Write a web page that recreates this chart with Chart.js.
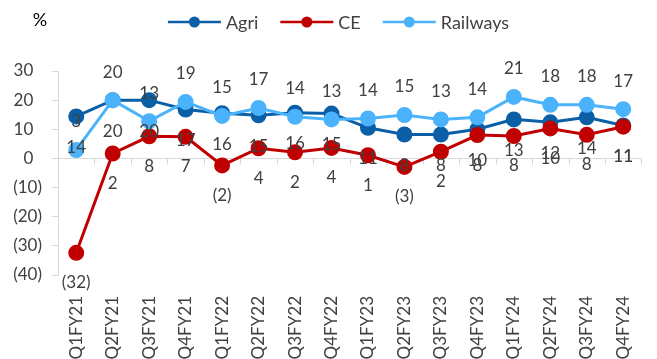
<!DOCTYPE html>
<html>
<head>
<meta charset="utf-8">
<script src="https://cdn.jsdelivr.net/npm/chart.js@4.4.0/dist/chart.umd.min.js"></script>
<style>
  html, body { margin: 0; padding: 0; background: #fff; }
  #wrap { width: 657px; height: 359px; }
</style>
</head>
<body>
<div id="wrap"><canvas id="myChart"></canvas></div>
<script>
var quarters = ["Q1FY21", "Q2FY21", "Q3FY21", "Q4FY21", "Q1FY22", "Q2FY22", "Q3FY22", "Q4FY22",
  "Q1FY23", "Q2FY23", "Q3FY23", "Q4FY23", "Q1FY24", "Q2FY24", "Q3FY24", "Q4FY24"];

var agri = [14.4, 20, 20, 16.8, 15.5, 14.8, 15.7, 15.4, 10.5, 8.2, 8.2, 10, 13.4, 12.4, 14.1, 11.3];
var ce = [-32.4, 1.7, 7.6, 7.4, -2.4, 3.5, 2.1, 3.6, 1.1, -2.9, 2.3, 8, 7.7, 10.3, 8.1, 10.9];
var railways = [2.9, 20, 12.8, 19.4, 14.6, 17.3, 14.3, 13.4, 13.7, 14.9, 13.4, 14.1, 21.1, 18.4, 18.4, 16.9];

var yTicks = [30, 20, 10, 0, -10, -20, -30, -40];

var textColor = "#404040";
var axisColor = "#d9d9d9";

Chart.defaults.font.family = "Lato";
Chart.defaults.font.size = 17;
Chart.defaults.color = textColor;

// negatives shown in brackets, like the source sheet
function fmt(v) {
  var r = Math.round(v);
  return r < 0 ? "(" + (-r) + ")" : String(r);
}

// zero line with category tick marks (axis crosses at 0)
var zeroLine = {
  id: "zeroLine",
  beforeDatasetsDraw: function (chart) {
    var ctx = chart.ctx, x = chart.scales.x, y = chart.scales.y;
    var y0 = Math.round(y.getPixelForValue(0)) + 0.5;
    var area = chart.chartArea;
    var step = x.getPixelForValue(1) - x.getPixelForValue(0);
    ctx.save();
    ctx.strokeStyle = axisColor;
    ctx.lineWidth = 1;
    ctx.beginPath();
    ctx.moveTo(area.left, y0);
    ctx.lineTo(area.right, y0);
    for (var i = 0; i < quarters.length; i++) {
      var bx = Math.round(x.getPixelForValue(i) + step / 2) + 0.5;
      ctx.moveTo(bx, y0);
      ctx.lineTo(bx, y0 + 6);
    }
    ctx.stroke();
    ctx.restore();
  }
};

var valueLabels = {
  id: "valueLabels",
  afterDatasetsDraw: function (chart) {
    var ctx = chart.ctx;
    ctx.save();
    ctx.font = "17px Lato";
    ctx.fillStyle = textColor;
    ctx.textAlign = "center";
    ctx.textBaseline = "middle";
    chart.data.datasets.forEach(function (ds, i) {
      var meta = chart.getDatasetMeta(i);
      meta.data.forEach(function (pt, j) {
        ctx.fillText(fmt(ds.data[j]), pt.x, pt.y + ds.labelShift);
      });
    });
    ctx.restore();
  }
};

// legend row: line-with-dot markers, plus the "%" unit on the left
var topRow = {
  id: "topRow",
  afterDraw: function (chart) {
    var ctx = chart.ctx;
    var y = 22, mw = 53, gap = 5, sep = 22;
    ctx.save();
    ctx.font = "18px Lato";
    ctx.textBaseline = "middle";
    var items = chart.data.datasets.map(function (ds) {
      return { ds: ds, w: mw + gap + ctx.measureText(ds.label).width };
    });
    var total = items.reduce(function (s, it) { return s + it.w; }, 0) + sep * (items.length - 1);
    var x = 338.5 - total / 2;
    items.forEach(function (it) {
      var c = it.ds.borderColor;
      ctx.strokeStyle = c;
      ctx.lineWidth = 2.5;
      ctx.beginPath();
      ctx.moveTo(x, y);
      ctx.lineTo(x + mw, y);
      ctx.stroke();
      ctx.fillStyle = c;
      ctx.beginPath();
      ctx.arc(x + mw / 2, y, 5.5, 0, Math.PI * 2);
      ctx.fill();
      ctx.fillStyle = textColor;
      ctx.textAlign = "left";
      ctx.fillText(it.ds.label, x + mw + gap, y + 1);
      x += it.w + sep;
    });
    ctx.fillStyle = "#000";
    ctx.textAlign = "center";
    ctx.fillText("%", chart.chartArea.left - 18, 20);
    ctx.restore();
  }
};

function series(label, data, color, order, shift) {
  return {
    label: label,
    data: data,
    borderColor: color,
    backgroundColor: color,
    pointBackgroundColor: color,
    pointBorderColor: color,
    borderWidth: 3,
    pointRadius: 6.5,
    pointHoverRadius: 6.5,
    tension: 0,
    order: order,
    labelShift: shift
  };
}

new Chart("myChart", {
  type: "line",
  data: {
    labels: quarters,
    datasets: [
      series("Agri", agri, "#0a5fa6", 3, 31),
      series("CE", ce, "#c00000", 2, 30),
      series("Railways", railways, "#4bb3fb", 1, -28)
    ]
  },
  options: {
    responsive: true,
    maintainAspectRatio: false,
    animation: false,
    layout: { padding: { top: 71, right: 12, bottom: 0, left: 0 } },
    plugins: {
      tooltip: { enabled: false },
      legend: { display: false }
    },
    scales: {
      x: {
        offset: true,
        afterFit: function (scale) { scale.height = 84; },
        grid: { display: false },
        border: { display: false },
        ticks: { minRotation: 90, maxRotation: 90, padding: 13, autoSkip: false, color: textColor }
      },
      y: {
        min: -40,
        max: 30,
        afterBuildTicks: function (scale) {
          scale.ticks = yTicks.map(function (v) { return { value: v }; });
        },
        afterFit: function (scale) { scale.width = 58; },
        border: { display: true, color: axisColor, width: 1 },
        grid: { drawOnChartArea: false, drawTicks: true, tickLength: 6, color: axisColor },
        ticks: {
          padding: 10,
          color: textColor,
          callback: function (v) { return v < 0 ? "(" + (-v) + ")" : v + "  "; }
        }
      }
    }
  },
  plugins: [zeroLine, valueLabels, topRow]
});
</script>
</body>
</html>
